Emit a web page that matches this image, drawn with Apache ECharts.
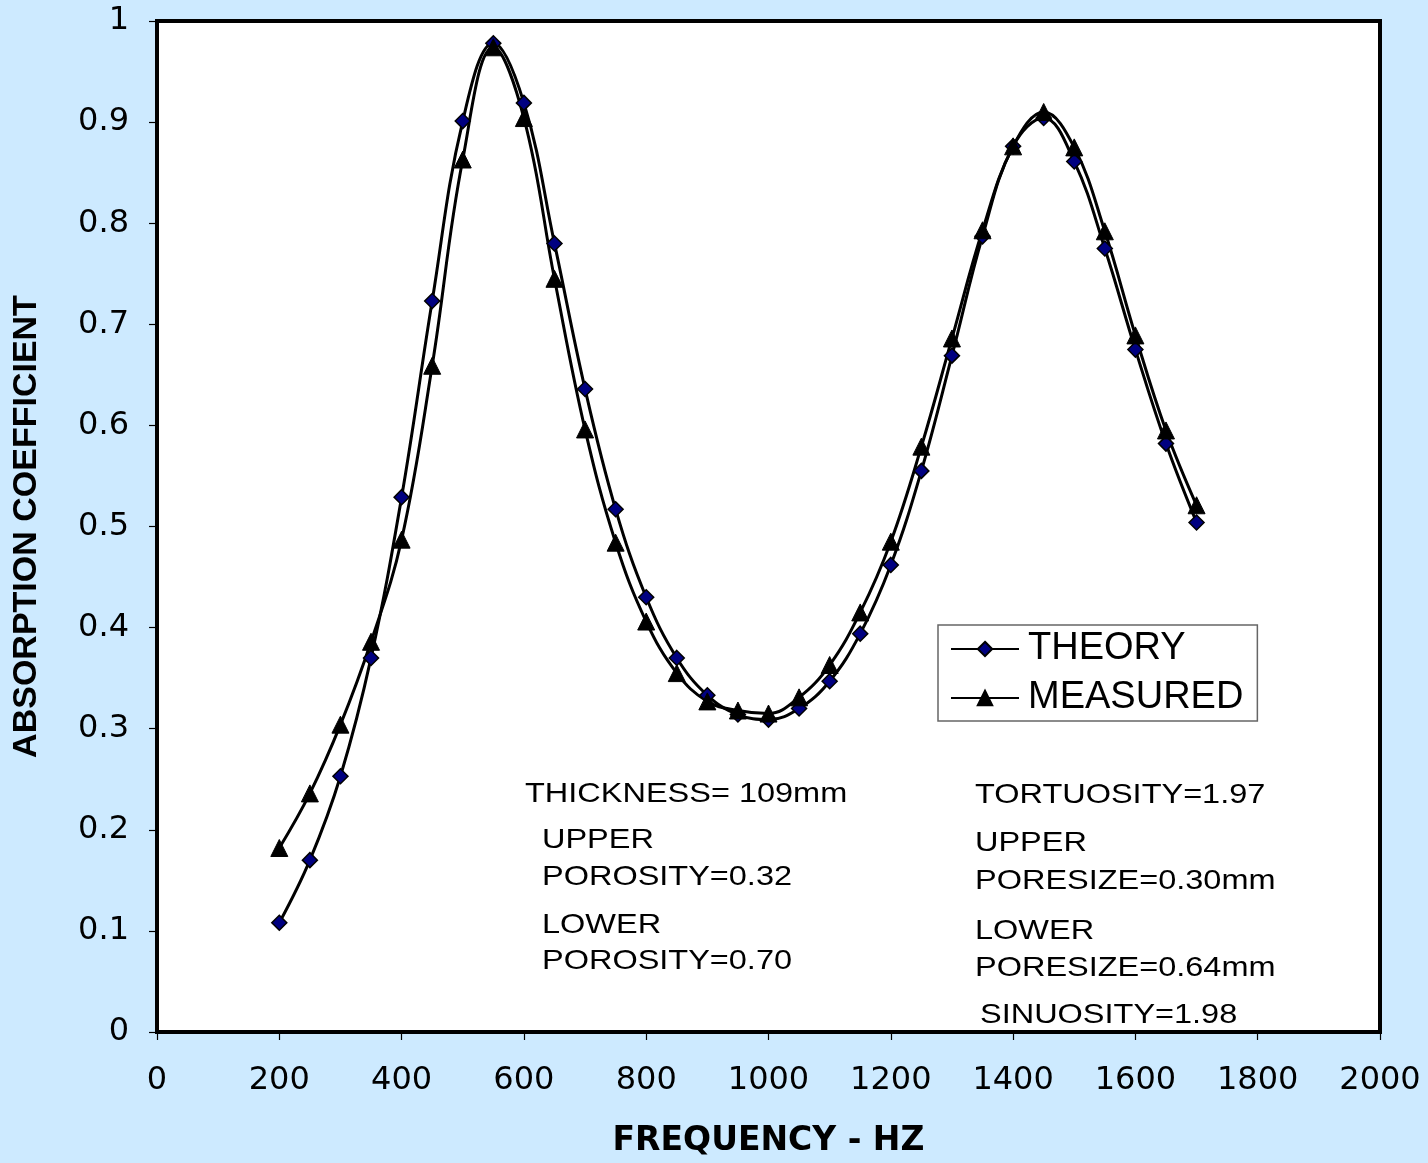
<!DOCTYPE html>
<html>
<head>
<meta charset="utf-8">
<script src="https://cdn.jsdelivr.net/npm/echarts@6/dist/echarts.min.js"></script>
<style>
  html, body { margin: 0; padding: 0; background: #cdeaff; }
  #chart { width: 1428px; height: 1163px; }
</style>
</head>
<body>
<div id="chart"></div>
<script>
const frequency = [200, 250, 300, 350, 400, 450, 500, 550, 600, 650, 700, 750, 800, 850, 900, 950,
  1000, 1050, 1100, 1150, 1200, 1250, 1300, 1350, 1400, 1450, 1500, 1550, 1600, 1650, 1700];

const theory = [0.108, 0.170, 0.253, 0.370, 0.529, 0.723, 0.901, 0.978, 0.919, 0.780, 0.636, 0.517,
  0.430, 0.370, 0.333, 0.314, 0.309, 0.320, 0.347, 0.394, 0.462, 0.555, 0.669, 0.787, 0.876, 0.904,
  0.861, 0.775, 0.675, 0.582, 0.504];

const measured = [0.182, 0.236, 0.304, 0.386, 0.487, 0.659, 0.863, 0.974, 0.904, 0.745, 0.596, 0.484,
  0.406, 0.355, 0.327, 0.318, 0.315, 0.331, 0.363, 0.415, 0.485, 0.579, 0.686, 0.793, 0.876, 0.910,
  0.875, 0.792, 0.689, 0.595, 0.521];

// text notes: [text, left, vertical centre]
const notes = [
  ['THICKNESS= 109mm', 525, 794],
  ['UPPER', 542, 840],
  ['POROSITY=0.32', 542, 877],
  ['LOWER', 542, 925],
  ['POROSITY=0.70', 542, 961],
  ['TORTUOSITY=1.97', 975, 795],
  ['UPPER', 975, 843],
  ['PORESIZE=0.30mm', 975, 881],
  ['LOWER', 975, 931],
  ['PORESIZE=0.64mm', 975, 968],
  ['SINUOSITY=1.98', 980, 1015]
];

const font = 'Liberation Sans, Arial, sans-serif';
const numFont = 'DejaVu Sans, sans-serif';
const pair = (xs, ys) => xs.map((x, i) => [x, ys[i]]);

const chart = echarts.init(document.getElementById('chart'));
chart.setOption({
  backgroundColor: '#cdeaff',
  animation: false,
  grid: {
    left: 157, right: 48, top: 21, bottom: 121,
    show: true, backgroundColor: '#ffffff',
    borderColor: '#000000', borderWidth: 4
  },
  legend: {
    left: 938, top: 625,
    orient: 'vertical',
    backgroundColor: '#ffffff',
    borderColor: '#666666', borderWidth: 1.5,
    padding: [5, 14, 4, 12],
    itemGap: 11,
    itemWidth: 68, itemHeight: 18,
    textStyle: { fontFamily: font, fontSize: 38, color: '#000', padding: [0, 0, 0, 4] },
    data: ['THEORY', 'MEASURED']
  },
  xAxis: {
    type: 'value', min: 0, max: 2000, interval: 200,
    name: 'FREQUENCY - HZ', nameLocation: 'middle', nameGap: 93,
    nameTextStyle: { fontFamily: numFont, fontSize: 33, fontWeight: 'bold', color: '#000' },
    axisLine: { show: false },
    axisTick: { show: true, length: 8, lineStyle: { color: '#000', width: 1.2 } },
    axisLabel: {
      fontFamily: numFont, fontSize: 32, color: '#000', margin: 33,
      formatter: (v) => String(v)
    },
    splitLine: { show: false }
  },
  yAxis: {
    type: 'value', min: 0, max: 1, interval: 0.1,
    name: 'ABSORPTION COEFFICIENT', nameLocation: 'middle', nameGap: 113,
    nameTextStyle: { fontFamily: font, fontSize: 34, fontWeight: 'bold', color: '#000' },
    axisLine: { show: false },
    axisTick: { show: true, length: 8, lineStyle: { color: '#000', width: 1.2 } },
    axisLabel: { fontFamily: numFont, fontSize: 32, color: '#000', margin: 28 },
    splitLine: { show: false }
  },
  series: [
    {
      name: 'THEORY', type: 'line', smooth: 0.4,
      data: pair(frequency, theory),
      symbol: 'diamond', symbolSize: 15,
      lineStyle: { color: '#000', width: 3 },
      itemStyle: { color: '#000080', borderColor: '#000', borderWidth: 1.5 }
    },
    {
      name: 'MEASURED', type: 'line', smooth: 0.4,
      data: pair(frequency, measured),
      symbol: 'triangle', symbolSize: 17,
      lineStyle: { color: '#000', width: 3 },
      itemStyle: { color: '#000', borderColor: '#000', borderWidth: 1 }
    }
  ],
  graphic: notes.map(([text, x, y]) => ({
    type: 'text', x: x, y: y, z: 100, scaleX: 1.16,
    style: { text, fontFamily: font, fontSize: 28, fill: '#000', verticalAlign: 'middle' }
  }))
});
</script>
</body>
</html>
